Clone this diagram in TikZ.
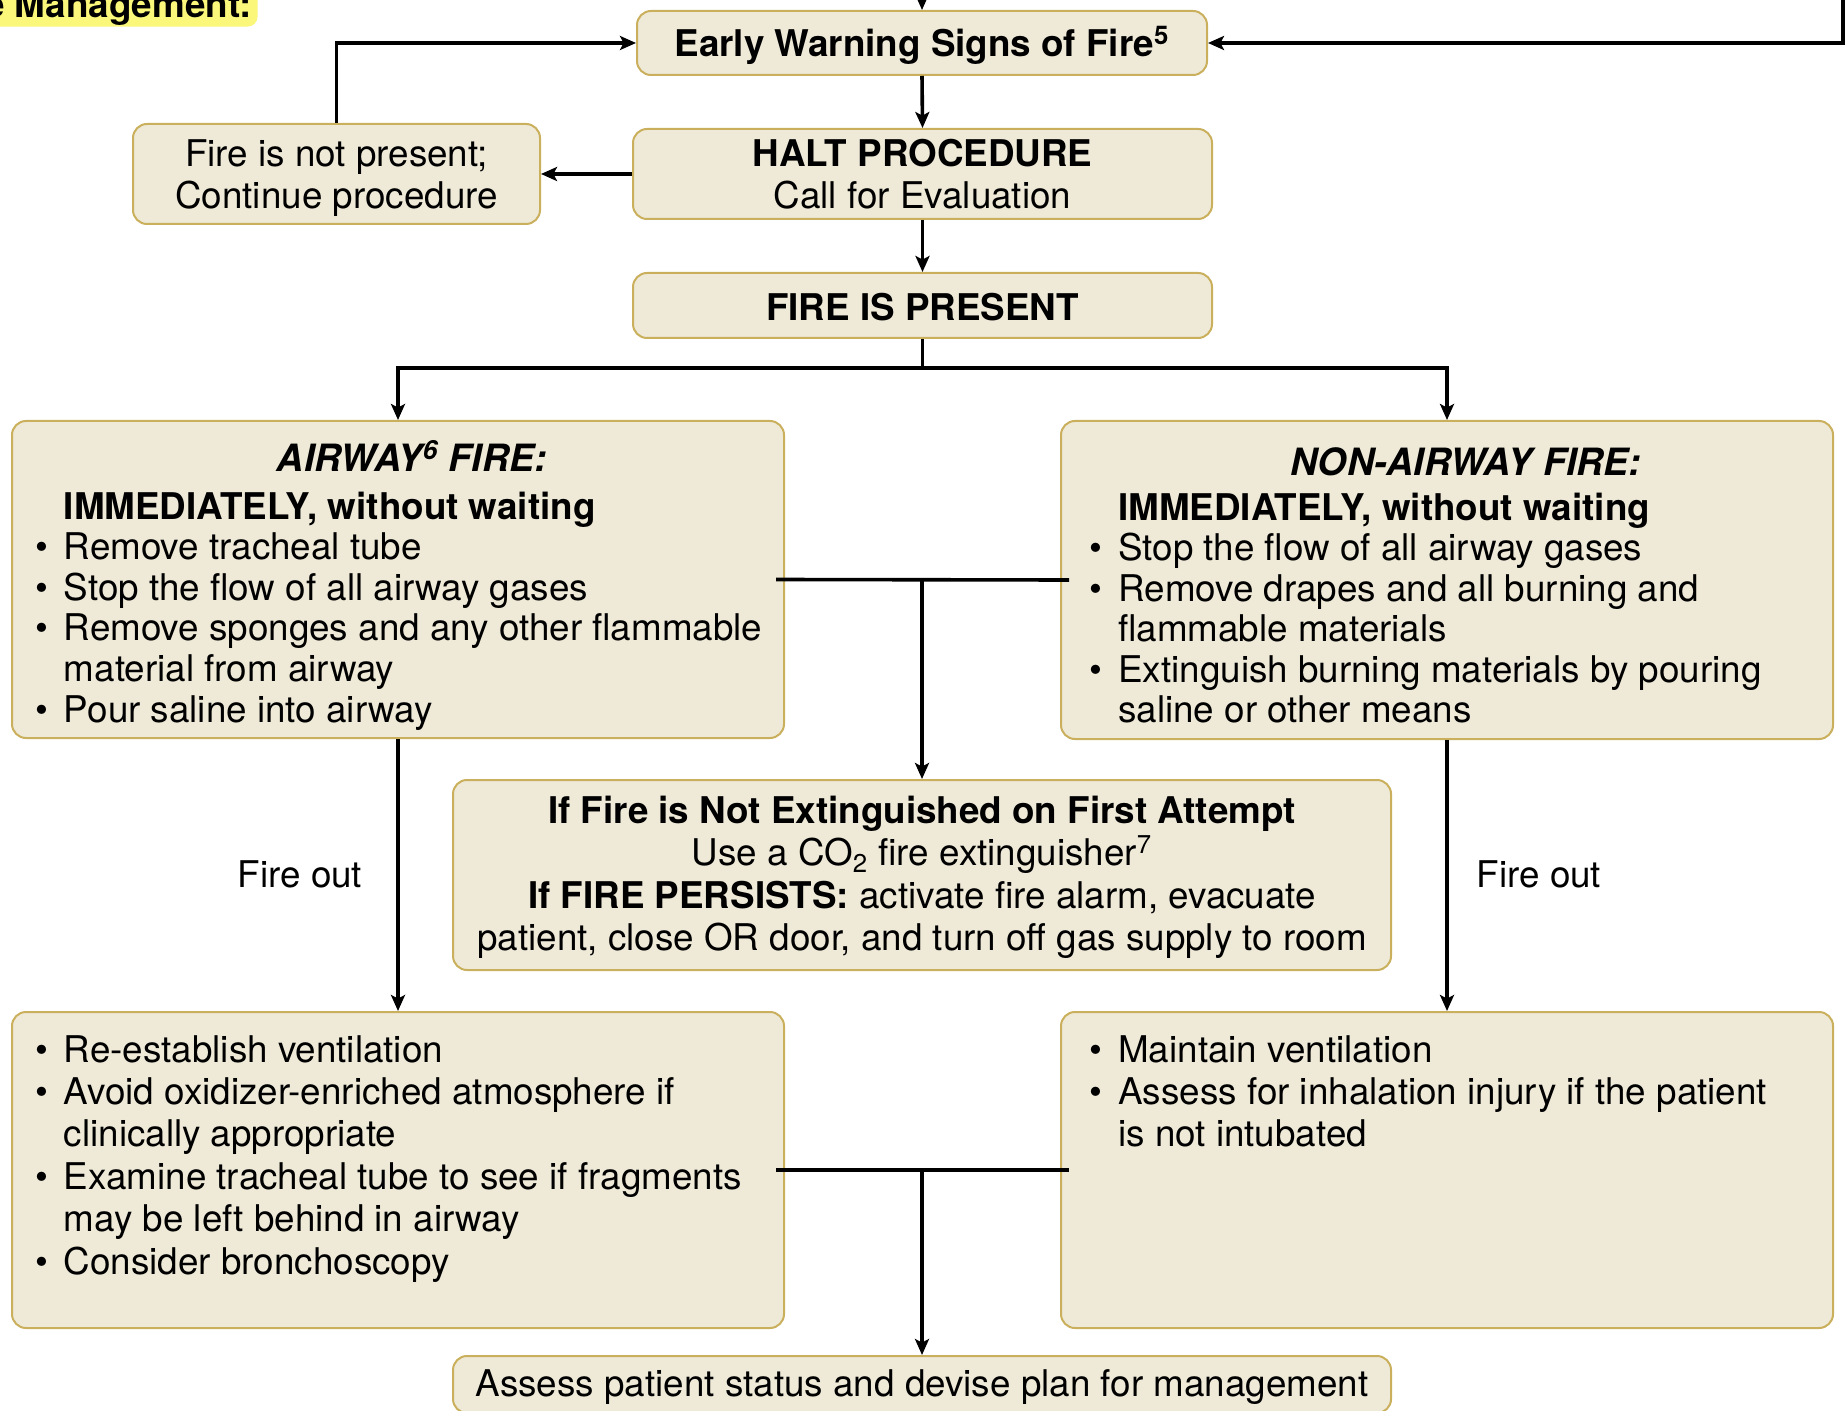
\documentclass[tikz,border=0pt]{standalone}
\usepackage{fontspec}
\setmainfont{TeX Gyre Heros}
\usetikzlibrary{arrows.meta,calc}
\definecolor{boxfill}{RGB}{239,234,216}
\definecolor{boxdraw}{RGB}{202,176,92}
\definecolor{hl}{RGB}{250,247,122}
\newcommand\mybul{\makebox[14.45pt][l]{\textbullet}}
\newcommand\dn[2][1.2pt]{\raisebox{-#1}[\height][\depth]{#2}}
\begin{document}
\begin{tikzpicture}[x=0.5pt,y=-0.5pt,
  box/.style={draw=boxdraw, fill=boxfill, line width=1pt, rounded corners=7pt, inner sep=0pt, align=center},
  conn/.style={line width=1.8pt},
  arr/.style={conn, -{Stealth[length=8pt,width=7pt,inset=1.8pt]}},
  txt/.style={inner sep=0pt},
  ttl/.style={txt, anchor=base, font=\fontsize{18.8}{21.2}\selectfont\bfseries\itshape},
  font=\fontsize{18.4}{21.2}\selectfont]
\useasboundingbox[fill=white] (0,0) rectangle (1845,1411);

% highlighted heading fragment
\node[fill=hl, rounded corners=5pt, anchor=base east, inner xsep=3pt, inner ysep=0.3pt, font=\fontsize{18.4}{21.2}\selectfont\bfseries] (hlab) at (258,18) {e Management:};

% boxes
\node[box, minimum width=285pt, minimum height=32pt] (EW) at (922,43) {\dn{\bfseries Early Warning Signs of Fire\textsuperscript{5}}};
\node[box, minimum width=203.5pt, minimum height=50pt] (NP) at (336.5,174) {\dn[2pt]{Fire is not present;}\\\dn[2pt]{Continue procedure}};
\node[box, minimum width=289.5pt, minimum height=45pt] (HALT) at (922.5,174) {\bfseries HALT PROCEDURE\\Call for Evaluation};
\node[box, minimum width=289.5pt, minimum height=32.5pt] (FP) at (922.5,305.5) {\dn[0.6pt]{\bfseries FIRE IS PRESENT}};
\node[box, minimum width=386pt, minimum height=158.5pt] (AW) at (398,579.5) {};
\node[box, minimum width=386pt, minimum height=159pt] (NA) at (1447,580) {};
\node[box, minimum width=469pt, minimum height=95pt] (NE) at (922,875) {\dn{\bfseries If Fire is Not Extinguished on First Attempt}\\\dn{Use a CO\textsubscript{2} fire extinguisher\textsuperscript{7}}\\\dn{\textbf{If FIRE PERSISTS:} activate fire alarm, evacuate}\\\dn{patient, close OR door, and turn off gas supply to room}};
\node[box, minimum width=386pt, minimum height=158pt] (BL) at (398,1170) {};
\node[box, minimum width=386pt, minimum height=158pt] (BR) at (1447,1170) {};
\node[box, minimum width=469pt, minimum height=28.5pt] (AS) at (922,1384.5) {\dn{Assess patient status and devise plan for management}};

% box texts
\node[ttl] (AWh) at (412,472) {AIRWAY\textsuperscript{6} FIRE:};
\node[txt, anchor=base west] (AWt) at (34.6,519) {\fontsize{18.4}{20.3}\selectfont\begin{tabular}[t]{@{}l@{}l@{}}
 & \bfseries IMMEDIATELY, without waiting\\
\mybul & Remove tracheal tube\\
\mybul & Stop the flow of all airway gases\\
\mybul & Remove sponges and any other flammable\\
 & material from airway\\
\mybul & Pour saline into airway
\end{tabular}};
\node[ttl] (NAh) at (1466,475) {NON-AIRWAY FIRE:};
\node[txt, anchor=base west] (NAt) at (1089,520) {\fontsize{18.4}{20.25}\selectfont\begin{tabular}[t]{@{}l@{}l@{}}
 & \bfseries IMMEDIATELY, without waiting\\
\mybul & Stop the flow of all airway gases\\
\mybul & Remove drapes and all burning and\\
 & flammable materials\\
\mybul & Extinguish burning materials by pouring\\
 & saline or other means
\end{tabular}};
\node[txt, anchor=base west] (BLt) at (34.6,1062) {\fontsize{18.4}{21.2}\selectfont\begin{tabular}[t]{@{}l@{}l@{}}
\mybul & Re-establish ventilation\\
\mybul & Avoid oxidizer-enriched atmosphere if\\
 & clinically appropriate\\
\mybul & Examine tracheal tube to see if fragments\\
 & may be left behind in airway\\
\mybul & Consider bronchoscopy
\end{tabular}};
\node[txt, anchor=base west] (BRt) at (1089,1062) {\fontsize{18.4}{21.2}\selectfont\begin{tabular}[t]{@{}l@{}l@{}}
\mybul & Maintain ventilation\\
\mybul & Assess for inhalation injury if the patient\\
 & is not intubated
\end{tabular}};

% connectors
\coordinate (ttop) at (922,-10);
\coordinate (rtop) at (1843,-10);
\draw[arr] (ttop) -- (EW.north);
\draw[arr] (rtop) |- (EW.east);
\draw[arr] (NP.north) |- (EW.west);
\draw[arr] (EW.south) -- (HALT.north);
\draw[arr] (HALT.west) -- (NP.east);
\draw[arr] (HALT.south) -- (FP.north);
\coordinate (sp) at (922.5,368);
\draw[conn] (FP.south) -- (sp);
\draw[arr] (sp) -| (AW.north);
\draw[arr] (sp) -| (NA.north);
\coordinate (mj) at (922,580);
\draw[conn] ([xshift=-4.5pt]AW.east) -- ([xshift=4.5pt]NA.west);
\draw[arr] (mj) -- (NE.north);
\draw[arr] (AW.south) -- (BL.north);
\draw[arr] (NA.south) -- (BR.north);
\node[txt] (fo1) at (300,874) {Fire out};
\node[txt] (fo2) at (1539,874) {Fire out};
\coordinate (bj) at (922,1171);
\draw[conn] ([xshift=-4.5pt]BL.east) -- ([xshift=4.5pt]BR.west);
\draw[arr] (bj) -- (AS.north);
\end{tikzpicture}
\end{document}
